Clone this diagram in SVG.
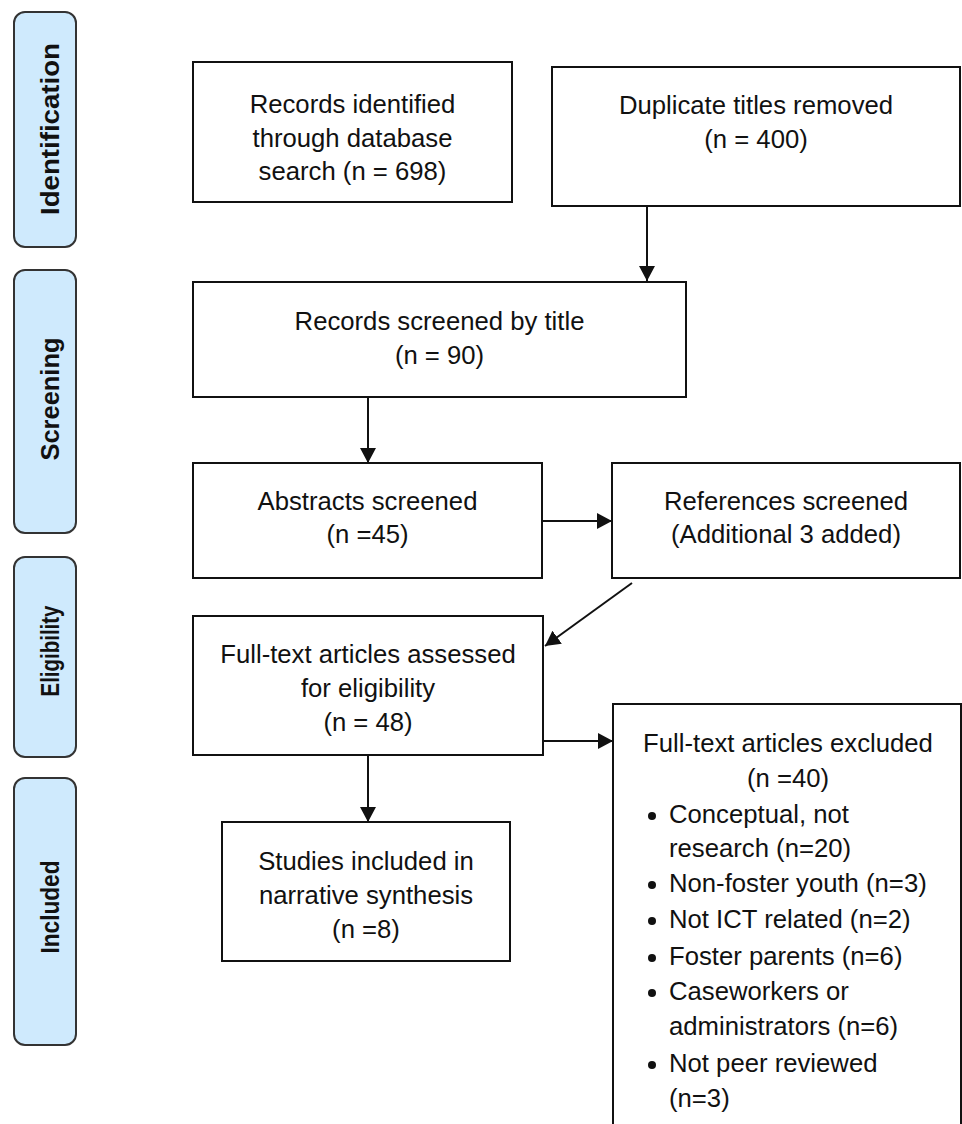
<svg xmlns="http://www.w3.org/2000/svg" width="962" height="1124" viewBox="0 0 962 1124">
<style>
.stage{fill:#cfeafd;stroke:#333;stroke-width:2}
.box{fill:#fff;stroke:#111;stroke-width:2}
.lbl{font-family:"Liberation Sans",Arial,sans-serif;font-weight:bold;font-size:26px;fill:#111;text-anchor:middle}
.t{font-family:"Liberation Sans",Arial,sans-serif;font-size:25.7px;fill:#111;text-anchor:middle}
.tl{font-family:"Liberation Sans",Arial,sans-serif;font-size:25.7px;fill:#111}
.conn{stroke:#111;stroke-width:2;fill:none;marker-end:url(#ah)}
</style>
<defs>
<marker id="ah" markerUnits="userSpaceOnUse" markerWidth="16" markerHeight="16" refX="15" refY="8" orient="auto">
<path d="M0,0 L15,8 L0,16 z" fill="#111"/>
</marker>
</defs>
<rect width="962" height="1124" fill="#fff"/>

<g id="stage-identification">
<rect class="stage" x="14" y="12" width="62" height="235" rx="11"/>
<text class="lbl" transform="translate(59,129) rotate(-90)" textLength="172" lengthAdjust="spacingAndGlyphs">Identification</text>
</g>
<g id="stage-screening">
<rect class="stage" x="14" y="270" width="62" height="263" rx="11"/>
<text class="lbl" transform="translate(59,399) rotate(-90)" textLength="123" lengthAdjust="spacingAndGlyphs">Screening</text>
</g>
<g id="stage-eligibility">
<rect class="stage" x="14" y="557" width="62" height="200" rx="11"/>
<text class="lbl" transform="translate(59,651) rotate(-90)" textLength="91" lengthAdjust="spacingAndGlyphs">Eligibility</text>
</g>
<g id="stage-included">
<rect class="stage" x="14" y="778" width="62" height="267" rx="11"/>
<text class="lbl" transform="translate(59,907) rotate(-90)" textLength="93" lengthAdjust="spacingAndGlyphs">Included</text>
</g>

<g id="connectors">
<line class="conn" x1="647" y1="207" x2="647" y2="281"/>
<line class="conn" x1="368" y1="397" x2="368" y2="463"/>
<line class="conn" x1="542" y1="521" x2="612" y2="521"/>
<line class="conn" x1="632" y1="583" x2="545" y2="646"/>
<line class="conn" x1="543" y1="741" x2="613" y2="741"/>
<line class="conn" x1="368" y1="755" x2="368" y2="822"/>
</g>

<g id="records-identified">
<rect class="box" x="193" y="62" width="319" height="140"/>
<text class="t" x="352.5" y="113">Records identified</text>
<text class="t" x="352.5" y="147">through database</text>
<text class="t" x="352.5" y="180">search (n = 698)</text>
</g>
<g id="duplicates-removed">
<rect class="box" x="552" y="67" width="408" height="139"/>
<text class="t" x="756" y="114">Duplicate titles removed</text>
<text class="t" x="756" y="148">(n = 400)</text>
</g>
<g id="screened-by-title">
<rect class="box" x="193" y="282" width="493" height="115"/>
<text class="t" x="439.5" y="330">Records screened by title</text>
<text class="t" x="439.5" y="364">(n = 90)</text>
</g>
<g id="abstracts-screened">
<rect class="box" x="193" y="463" width="349" height="115"/>
<text class="t" x="367.5" y="510">Abstracts screened</text>
<text class="t" x="367.5" y="543">(n =45)</text>
</g>
<g id="references-screened">
<rect class="box" x="612" y="463" width="348" height="115"/>
<text class="t" x="786" y="510">References screened</text>
<text class="t" x="786" y="543">(Additional 3 added)</text>
</g>
<g id="fulltext-assessed">
<rect class="box" x="193" y="616" width="350" height="139"/>
<text class="t" x="368" y="663">Full-text articles assessed</text>
<text class="t" x="368" y="697">for eligibility</text>
<text class="t" x="368" y="731">(n = 48)</text>
</g>
<g id="studies-included">
<rect class="box" x="222" y="822" width="288" height="139"/>
<text class="t" x="366" y="870">Studies included in</text>
<text class="t" x="366" y="904">narrative synthesis</text>
<text class="t" x="366" y="938">(n =8)</text>
</g>
<g id="fulltext-excluded">
<rect class="box" x="613" y="704" width="348" height="440"/>
<text class="t" x="788" y="752">Full-text articles excluded</text>
<text class="t" x="788" y="787">(n =40)</text>
<circle cx="652" cy="816" r="4" fill="#111"/>
<text class="tl" x="669" y="823">Conceptual, not</text>
<text class="tl" x="669" y="857">research (n=20)</text>
<circle cx="652" cy="885" r="4" fill="#111"/>
<text class="tl" x="669" y="892">Non-foster youth (n=3)</text>
<circle cx="652" cy="921" r="4" fill="#111"/>
<text class="tl" x="669" y="928">Not ICT related (n=2)</text>
<circle cx="652" cy="958" r="4" fill="#111"/>
<text class="tl" x="669" y="965">Foster parents (n=6)</text>
<circle cx="652" cy="993" r="4" fill="#111"/>
<text class="tl" x="669" y="1000">Caseworkers or</text>
<text class="tl" x="669" y="1035">administrators (n=6)</text>
<circle cx="652" cy="1065" r="4" fill="#111"/>
<text class="tl" x="669" y="1072">Not peer reviewed</text>
<text class="tl" x="669" y="1107">(n=3)</text>
</g>
</svg>
